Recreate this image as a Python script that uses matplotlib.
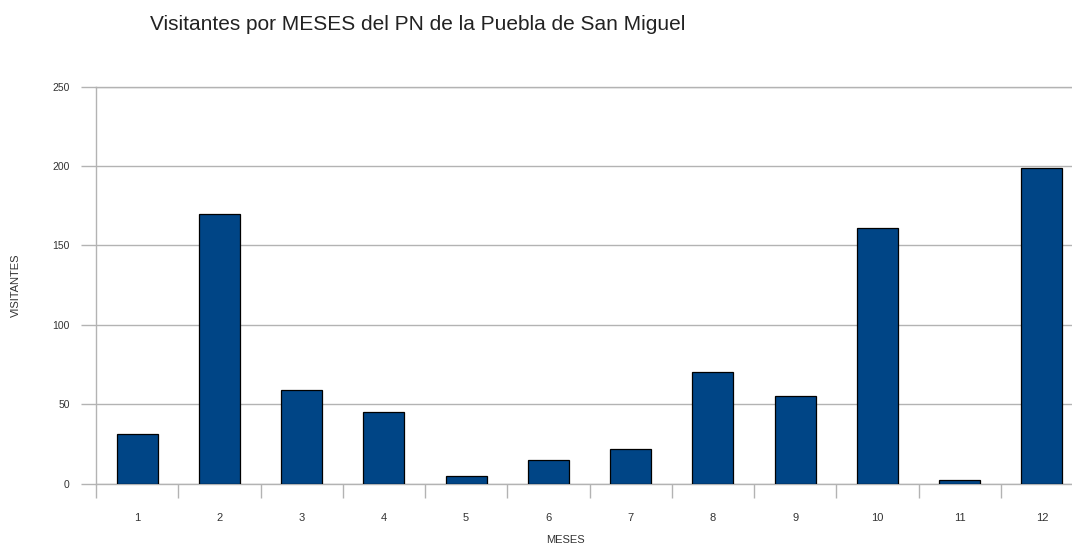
import matplotlib
matplotlib.use('Agg')
import matplotlib.pyplot as plt
import numpy as np

plt.rcParams['font.family'] = ['Liberation Sans', 'DejaVu Sans']

meses = ['1', '2', '3', '4', '5', '6', '7', '8', '9', '10', '11', '12']
visitantes = [31, 170, 59, 45, 5, 15, 22, 70, 55, 161, 2, 199]
y_ticks = [0, 50, 100, 150, 200, 250]

BAR = '#004586'
GRID = '#b3b3b3'
TXT = '#333333'

fig = plt.figure(figsize=(10.72, 5.47), dpi=100)
# plot area runs a bit past the right edge of the picture, as in the original
ax = fig.add_axes([96/1072, 1 - 483.5/547, 987/1072, 396.8/547])

x = np.arange(len(meses))
ax.bar(x, visitantes, width=0.5, color=BAR, edgecolor='black', linewidth=0.9, zorder=3)

ax.set_xlim(-0.5, len(meses) - 0.5)
ax.set_ylim(0, 250)

# boundaries as major ticks (no labels), month labels as minor ticks at centres
ax.set_xticks(np.arange(len(meses) + 1) - 0.5)
ax.set_xticklabels([])
ax.set_xticks(x, minor=True)
ax.set_xticklabels(meses, minor=True)
ax.tick_params(axis='x', which='major', length=10, color=GRID, width=1)
ax.tick_params(axis='x', which='minor', length=0, pad=21, labelsize=8, labelcolor=TXT)

ax.set_yticks(y_ticks)
ax.tick_params(axis='y', length=11, color=GRID, width=1, pad=8, labelsize=7.5, labelcolor=TXT)

ax.grid(axis='y', color=GRID, linewidth=1, zorder=0)
for s in ['top', 'right']:
    ax.spines[s].set_visible(False)
for s in ['left', 'bottom']:
    ax.spines[s].set_color(GRID)
    ax.spines[s].set_linewidth(1)
ax.axhline(250, color=GRID, linewidth=1, zorder=0, clip_on=False)

fig.text(150/1072, 1 - 24/547, 'Visitantes por MESES del PN de la Puebla de San Miguel',
         fontsize=15, color='#222222', ha='left', va='center')
fig.text(565/1072, 1 - 540/547, 'MESES', fontsize=8, color=TXT, ha='center', va='center')
fig.text(16/1072, 1 - 285/547, 'VISITANTES', fontsize=8, color=TXT, ha='center', va='center',
         rotation=90)

plt.savefig('out.png', dpi=100)
plt.close()
